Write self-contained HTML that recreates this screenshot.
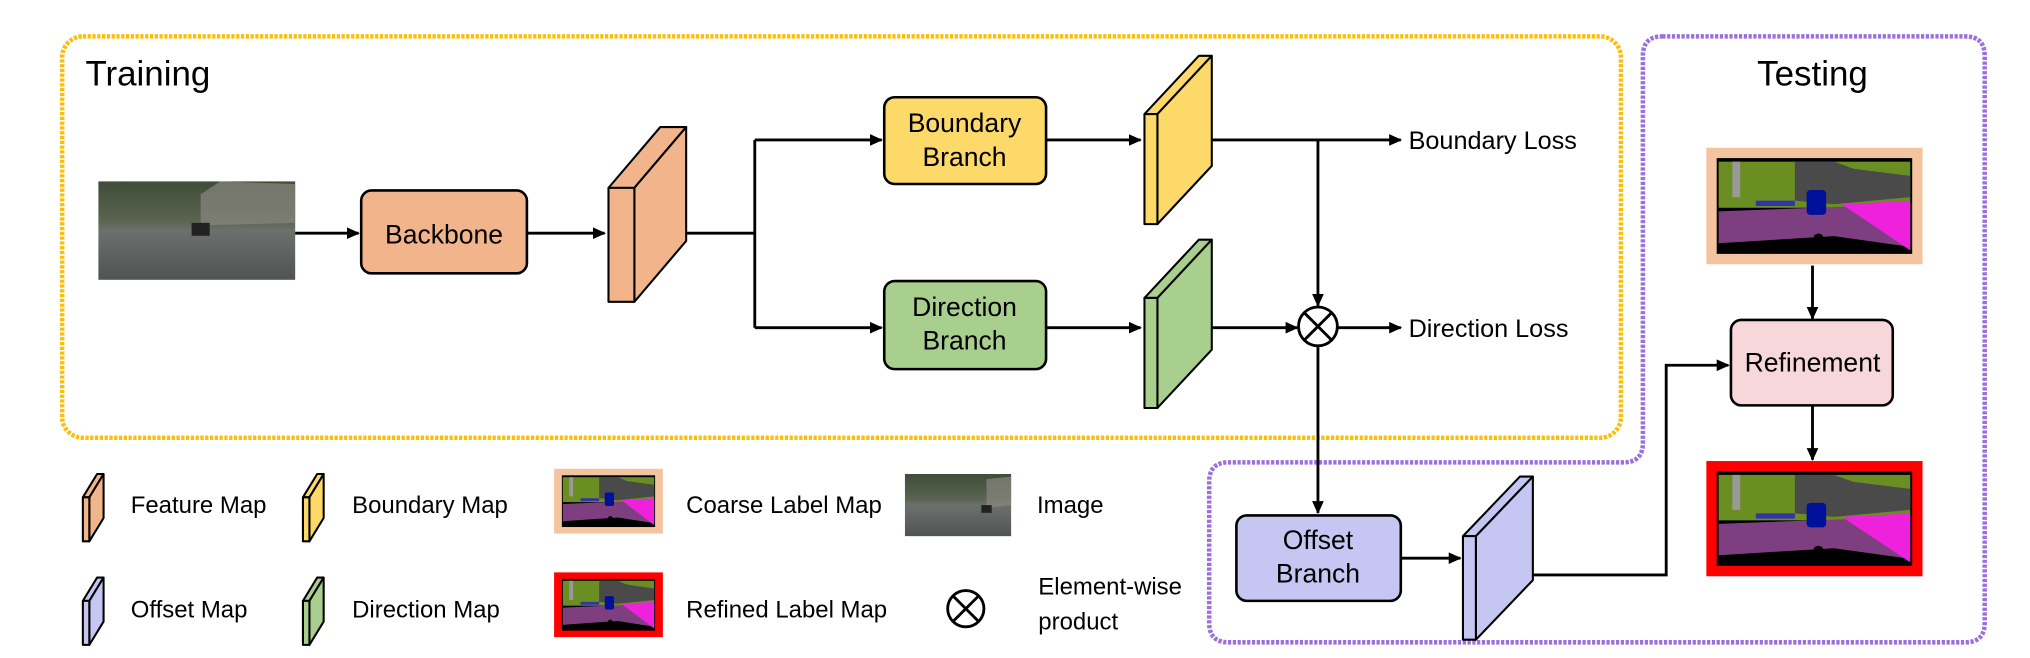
<!DOCTYPE html>
<html><head><style>html,body{margin:0;padding:0;background:#fff;}svg{display:block;}</style></head><body>
<svg width="2030" height="658" viewBox="0 0 1568 508" xmlns="http://www.w3.org/2000/svg" font-family="'Liberation Sans', sans-serif">
<defs>
<marker id="ah" markerWidth="10" markerHeight="10" refX="9" refY="5" orient="auto" markerUnits="userSpaceOnUse"><path d="M0,0.5 L10,5 L0,9.5 z" fill="#000"/></marker>
<g id="lbl">
<rect x="0" y="0" width="100" height="54" fill="#000"/>
<rect x="1" y="2" width="98" height="26" fill="#6b8e23"/>
<polygon points="40,2 60,2 70,6 99,10 99,22 60,26 40,24" fill="#4a4a4a"/>
<rect x="8" y="2" width="4" height="20" fill="#999"/>
<polygon points="1,30 99,26 99,50 60,44 30,46 1,48" fill="#7d3f80"/>
<polygon points="64,26 99,24 99,52" fill="#ee22dd"/>
<rect x="46" y="18" width="10" height="14" rx="2" fill="#001199"/>
<rect x="20" y="24" width="20" height="3" fill="#33a"/>
<circle cx="52" cy="45" r="2.5" fill="#000"/>
</g>
<linearGradient id="sg" x1="0" y1="0" x2="0" y2="1"><stop offset="0" stop-color="#3f4d38"/><stop offset="0.4" stop-color="#5a6450"/><stop offset="0.5" stop-color="#6d706d"/><stop offset="1" stop-color="#4f5452"/></linearGradient>
</defs>

<rect x="48" y="28" width="1204" height="310" rx="16" fill="none" stroke="#fbbf0a" stroke-width="3.5" stroke-dasharray="2.5 1.2"/>
<path d="M1284,28 L1518,28 Q1533,28 1533,43 L1533,481 Q1533,496 1518,496 L949,496 Q934,496 934,481 L934,372 Q934,357 949,357 L1254,357 Q1269,357 1269,342 L1269,43 Q1269,28 1284,28 Z" fill="none" stroke="#9b6fdc" stroke-width="3.5" stroke-dasharray="2.5 1.2"/>

<text x="66" y="66" font-size="27">Training</text>
<text x="1400" y="66" font-size="27" text-anchor="middle">Testing</text>

<rect x="76" y="140" width="152" height="76" fill="url(#sg)"/>
<polygon points="155,150 170,140 228,142 228,172 155,174" fill="#8a8880" opacity="0.7"/>
<rect x="148" y="172" width="14" height="10" fill="#222"/>

<g stroke="#000" stroke-width="2.2" fill="none">
<line x1="228" y1="180" x2="277" y2="180" marker-end="url(#ah)"/>
<line x1="407" y1="180" x2="467" y2="180" marker-end="url(#ah)"/>
<line x1="513" y1="180" x2="583" y2="180"/>
<line x1="583" y1="108" x2="583" y2="253"/>
<line x1="583" y1="108" x2="681" y2="108" marker-end="url(#ah)"/>
<line x1="583" y1="253" x2="681" y2="253" marker-end="url(#ah)"/>
<line x1="808" y1="108" x2="881" y2="108" marker-end="url(#ah)"/>
<line x1="808" y1="253" x2="881" y2="253" marker-end="url(#ah)"/>
<line x1="915" y1="108" x2="1082" y2="108" marker-end="url(#ah)"/>
<line x1="1018" y1="108" x2="1018" y2="236" marker-end="url(#ah)"/>
<line x1="915" y1="253" x2="1002" y2="253" marker-end="url(#ah)"/>
<line x1="1033" y1="253" x2="1082" y2="253" marker-end="url(#ah)"/>
<line x1="1018" y1="268" x2="1018" y2="396" marker-end="url(#ah)"/>
<line x1="1082" y1="431" x2="1128" y2="431" marker-end="url(#ah)"/>
<polyline points="1162,444 1287,444 1287,282 1335,282" marker-end="url(#ah)"/>
<line x1="1400" y1="205" x2="1400" y2="246" marker-end="url(#ah)"/>
<line x1="1400" y1="313" x2="1400" y2="355" marker-end="url(#ah)"/>
</g>

<g stroke="#000" stroke-width="2">
<rect x="279" y="147" width="128" height="64" rx="8" fill="#f2b48a"/>
<rect x="683" y="75" width="125" height="67" rx="8" fill="#fdd96a"/>
<rect x="683" y="217" width="125" height="68" rx="8" fill="#a9cf8f"/>
<rect x="955" y="398" width="127" height="66" rx="8" fill="#c5c6f2"/>
<rect x="1337" y="247" width="125" height="66" rx="8" fill="#f8d7da"/>
</g>
<g font-size="20.5" text-anchor="middle">
<text x="343" y="188">Backbone</text>
<text x="745" y="102">Boundary</text><text x="745" y="128">Branch</text>
<text x="745" y="244">Direction</text><text x="745" y="270">Branch</text>
<text x="1018" y="424">Offset</text><text x="1018" y="450">Branch</text>
<text x="1400" y="287">Refinement</text>
</g>
<g font-size="19.5">
<text x="1088" y="115">Boundary Loss</text>
<text x="1088" y="260">Direction Loss</text>
</g>

<g stroke="#000" stroke-width="1.6" stroke-linejoin="round">
<g fill="#f2b48a"><polygon points="470,145 490,145 530,98 510,98"/><polygon points="490,145 530,98 530,186 490,233"/><rect x="470" y="145" width="20" height="88"/></g>
<g fill="#fdd96a"><polygon points="884,88 894,88 936,43 926,43"/><polygon points="894,88 936,43 936,128 894,173"/><rect x="884" y="88" width="10" height="85"/></g>
<g fill="#a9cf8f"><polygon points="884,230 894,230 936,185 926,185"/><polygon points="894,230 936,185 936,270 894,315"/><rect x="884" y="230" width="10" height="85"/></g>
<g fill="#c5c6f2"><polygon points="1130,414 1140,414 1184,368 1174,368"/><polygon points="1140,414 1184,368 1184,448 1140,494"/><rect x="1130" y="414" width="10" height="80"/></g>
<g fill="#f2b48a"><polygon points="64,384 69,384 80,366 75,366"/><polygon points="69,384 80,366 80,400 69,418"/><rect x="64" y="384" width="5" height="34"/></g>
<g fill="#fdd96a"><polygon points="234,384 239,384 250,366 245,366"/><polygon points="239,384 250,366 250,400 239,418"/><rect x="234" y="384" width="5" height="34"/></g>
<g fill="#c5c6f2"><polygon points="64,464 69,464 80,446 75,446"/><polygon points="69,464 80,446 80,480 69,498"/><rect x="64" y="464" width="5" height="34"/></g>
<g fill="#a9cf8f"><polygon points="234,464 239,464 250,446 245,446"/><polygon points="239,464 250,446 250,480 239,498"/><rect x="234" y="464" width="5" height="34"/></g>
</g>

<g stroke="#000" stroke-width="2.2" fill="#fff">
<circle cx="1018" cy="252" r="15"/>
<line x1="1007.4" y1="241.4" x2="1028.6" y2="262.6"/><line x1="1028.6" y1="241.4" x2="1007.4" y2="262.6"/>
<circle cx="746" cy="470" r="14"/>
<line x1="736" y1="460" x2="756" y2="480"/><line x1="756" y1="460" x2="736" y2="480"/>
</g>

<rect x="1318" y="114" width="167" height="90" fill="#f4c3a0"/>
<use href="#lbl" transform="translate(1326,122) scale(1.51,1.37)"/>
<rect x="1318" y="356" width="167" height="89" fill="#ff0000"/>
<use href="#lbl" transform="translate(1326,364) scale(1.51,1.35)"/>
<rect x="428" y="362" width="84" height="50" fill="#f4c3a0"/>
<use href="#lbl" transform="translate(434,367) scale(0.72,0.74)"/>
<rect x="428" y="442" width="84" height="50" fill="#ff0000"/>
<use href="#lbl" transform="translate(434,447) scale(0.72,0.74)"/>
<rect x="699" y="366" width="82" height="48" fill="url(#sg)"/>
<polygon points="762,370 781,368 781,390 762,392" fill="#8a8880" opacity="0.7"/>
<rect x="758" y="390" width="8" height="6" fill="#222"/>

<g font-size="18.5">
<text x="101" y="396">Feature Map</text>
<text x="272" y="396">Boundary Map</text>
<text x="530" y="396">Coarse Label Map</text>
<text x="801" y="396">Image</text>
<text x="101" y="477">Offset Map</text>
<text x="272" y="477">Direction Map</text>
<text x="530" y="477">Refined Label Map</text>
<text x="802" y="459">Element-wise</text>
<text x="802" y="486">product</text>
</g>
</svg>
</body></html>
